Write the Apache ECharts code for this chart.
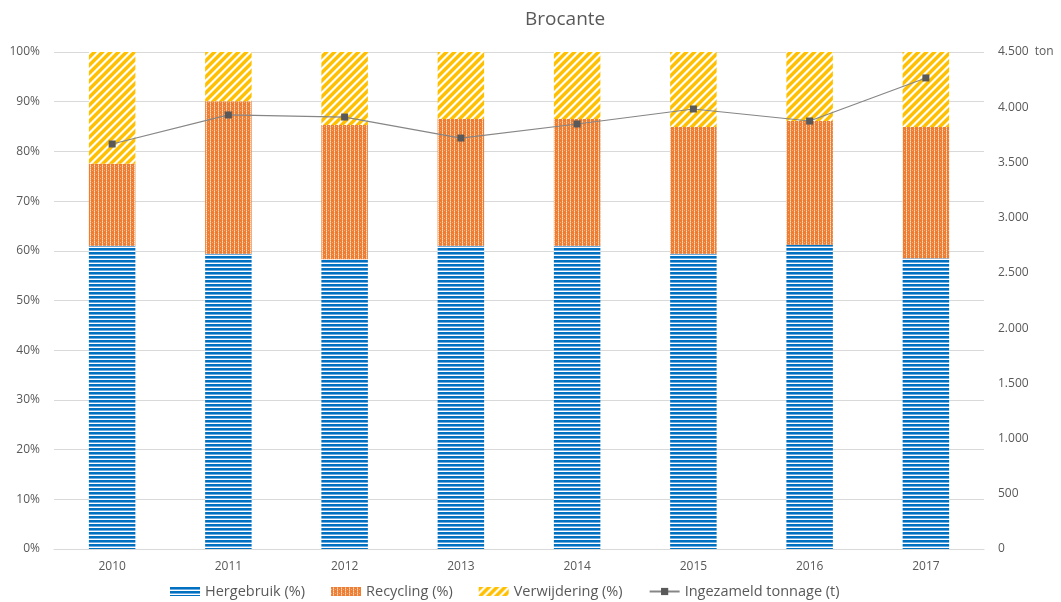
<!DOCTYPE html>
<html><head><meta charset="utf-8">
<script src="https://cdn.jsdelivr.net/npm/echarts@6/dist/echarts.min.js"></script>
<style>html,body{margin:0;padding:0;background:#fff}#c{width:1061px;height:602px}</style>
</head><body><div id="c"></div>
<script>
var years = ['2010','2011','2012','2013','2014','2015','2016','2017'];
var hergebruik = [61.0, 59.4, 58.3, 61.0, 61.0, 59.4, 61.2, 58.5];
var recycling = [16.5, 30.7, 27.0, 25.5, 25.5, 25.5, 24.9, 26.4];
var verwijdering = [22.5, 9.9, 14.7, 13.5, 13.5, 15.1, 13.9, 15.1];
var tonnage = [3667, 3930, 3911, 3721, 3848, 3984, 3875, 4265];

function makeTile(w, h, fn) {
  var c = document.createElement('canvas'); c.width = w; c.height = h;
  var ctx = c.getContext('2d');
  var img = ctx.createImageData(w, h);
  for (var y = 0; y < h; y++) for (var x = 0; x < w; x++) {
    var col = fn(x, y); var i = (y * w + x) * 4;
    img.data[i] = col[0]; img.data[i+1] = col[1]; img.data[i+2] = col[2]; img.data[i+3] = 255;
  }
  ctx.putImageData(img, 0, 0);
  return c;
}
var W = [255,255,255];
var blueTile = makeTile(4, 4, function(x, y){ return y < 2 ? [0,112,192] : (y==2 ? [110,170,222] : W); });
var orangeTile = makeTile(4, 4, function(x, y){
  if (x == 2) return (y % 2 == 1) ? [252,225,205] : [246,180,135];
  if (x == 0 && y == 2) return [244,170,120];
  return [237,125,49];
});
var yellowTile = makeTile(8, 8, function(x, y){ var m = (x + y) % 8; return m < 4 ? [255,192,0] : (m==4||m==7 ? [255,225,140] : W); });

var pat = function(t){ return {image: t, repeat: 'repeat'}; };
var txt = '#595959';
var font = 'Open Sans';

var chart = echarts.init(document.getElementById('c'));
chart.setOption({
  animation: false,
  textStyle: {fontFamily: font},
  title: {text: 'Brocante', left: 520, top: 5, textStyle: {fontSize: 19, fontWeight: 'normal', color: txt, fontFamily: font}},
  grid: {left: 54, right: 77, top: 52, bottom: 53},
  legend: {
    left: 165, bottom: -2, itemGap: 26, itemWidth: 30, itemHeight: 9,
    textStyle: {fontSize: 14.5, color: txt, fontFamily: font},
    data: [
      {name: 'Hergebruik (%)', icon: 'rect'},
      {name: 'Recycling (%)', icon: 'rect'},
      {name: 'Verwijdering (%)', icon: 'rect'},
      {name: 'Ingezameld tonnage (t)'}
    ]
  },
  xAxis: {
    type: 'category', data: years,
    axisLine: {lineStyle: {color: '#D9D9D9'}}, axisTick: {show: false},
    axisLabel: {color: txt, fontSize: 12, margin: 12}
  },
  yAxis: [
    {type: 'value', min: 0, max: 100, interval: 10,
     axisLabel: {formatter: '{value}%', color: txt, fontSize: 12, margin: 14},
     splitLine: {lineStyle: {color: '#D9D9D9'}}, axisLine: {show: false}, axisTick: {show: false}},
    {type: 'value', min: 0, max: 4500, interval: 500,
     axisLabel: {color: txt, fontSize: 12, margin: 14, formatter: function(v){
        var s = v >= 1000 ? Math.floor(v/1000) + '.' + String(v%1000).padStart(3,'0') : String(v);
        return v === 4500 ? s + '  ton' : s; }},
     splitLine: {show: false}, axisLine: {show: false}, axisTick: {show: false}}
  ],
  series: [
    {name: 'Hergebruik (%)', type: 'bar', stack: 'p', data: hergebruik, barWidth: '40%', itemStyle: {color: pat(blueTile)}},
    {name: 'Recycling (%)', type: 'bar', stack: 'p', data: recycling, barWidth: '40%', itemStyle: {color: pat(orangeTile)}},
    {name: 'Verwijdering (%)', type: 'bar', stack: 'p', data: verwijdering, barWidth: '40%', itemStyle: {color: pat(yellowTile)}},
    {name: 'Ingezameld tonnage (t)', type: 'line', yAxisIndex: 1, data: tonnage,
     symbol: 'rect', symbolSize: 7, itemStyle: {color: '#595959'},
     lineStyle: {color: '#868686', width: 1.2}}
  ]
});
</script></body></html>
